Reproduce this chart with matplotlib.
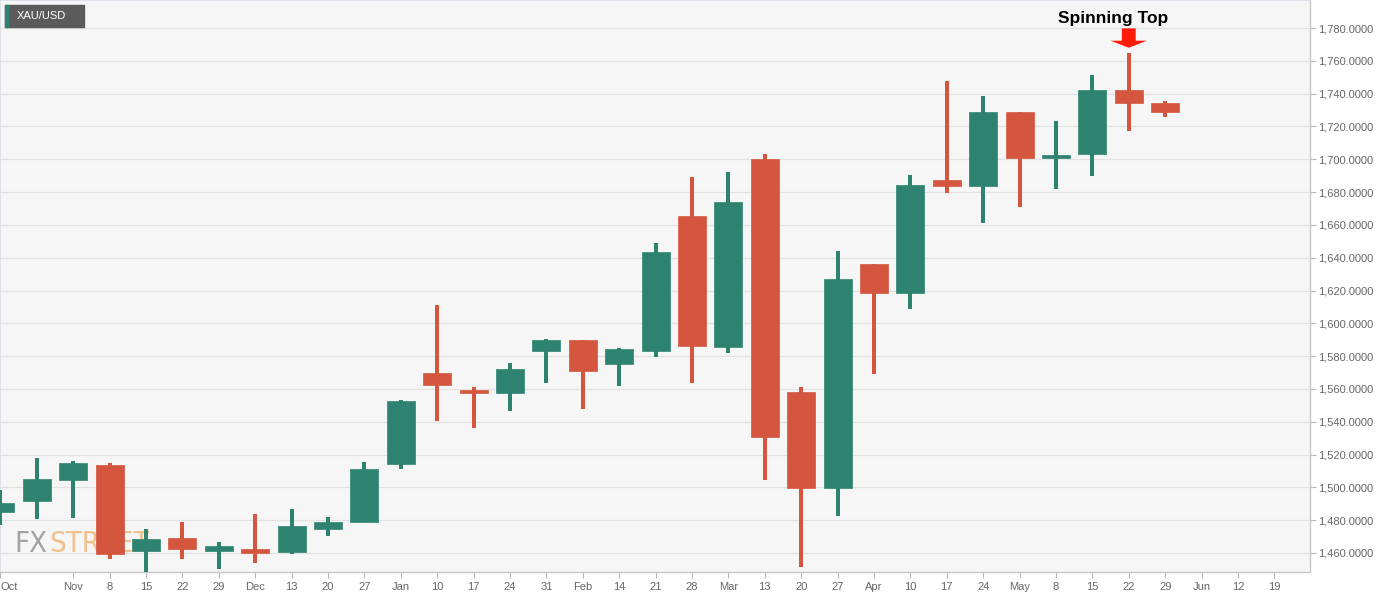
import numpy as np
import matplotlib.pyplot as plt
from matplotlib.patches import Rectangle, Polygon

# -------------------------- 数据（周线 K 线，XAU/USD） --------------------------
week_labels = ['Oct', '', 'Nov', '8', '15', '22', '29', 'Dec', '13', '20', '27',
               'Jan', '10', '17', '24', '31', 'Feb', '14', '21', '28', 'Mar', '13',
               '20', '27', 'Apr', '10', '17', '24', 'May', '8', '15', '22', '29',
               'Jun', '12', '19']
month_idx = [0, 2, 7, 11, 16, 20, 24, 28, 33]

opens = [1485.2, 1491.9, 1504.5, 1513.5, 1461.4, 1469.3, 1461.1, 1462.5, 1460.4,
         1474.6, 1479.1, 1514.3, 1569.5, 1559.4, 1557.3, 1583.1, 1589.8, 1575.2,
         1583.3, 1665.6, 1585.4, 1700.2, 1558.0, 1499.4, 1636.2, 1618.7, 1687.4,
         1683.9, 1728.6, 1700.6, 1703.0, 1742.2, 1734.1]
closes = [1490.7, 1504.9, 1514.7, 1459.4, 1468.4, 1462.5, 1464.3, 1460.2, 1476.3,
          1478.7, 1511.4, 1552.7, 1562.6, 1557.7, 1572.0, 1589.8, 1570.8, 1584.2,
          1643.7, 1586.4, 1673.8, 1530.9, 1499.4, 1626.8, 1618.7, 1684.3, 1683.9,
          1728.6, 1700.6, 1702.8, 1742.2, 1734.5, 1729.0]
highs = [1498.4, 1517.7, 1516.1, 1514.9, 1474.6, 1478.9, 1466.5, 1483.8, 1486.8,
         1481.8, 1515.5, 1553.3, 1611.2, 1561.0, 1576.0, 1590.4, 1590.0, 1585.0,
         1648.8, 1689.2, 1692.0, 1703.0, 1561.4, 1644.1, 1636.2, 1690.4, 1747.7,
         1738.6, 1728.6, 1723.3, 1751.4, 1764.6, 1735.5]
lows = [1477.1, 1480.7, 1481.3, 1456.5, 1446.0, 1456.5, 1450.4, 1454.1, 1459.4,
        1470.4, 1478.8, 1511.0, 1540.6, 1536.4, 1546.7, 1563.8, 1547.6, 1562.0,
        1579.3, 1563.4, 1581.7, 1504.7, 1451.7, 1482.7, 1568.9, 1608.9, 1679.6,
        1661.3, 1670.7, 1681.9, 1690.0, 1717.4, 1725.9]

y_ticks = np.arange(1460, 1781, 20)
signal_idx = 31  # Spinning Top 所在周

# -------------------------- 样式 --------------------------
green = '#2E8370'
red = '#D4563F'
body_w = 0.77
wick_w = 0.11
fonts = ['Liberation Sans', 'DejaVu Sans']

fig = plt.figure(figsize=(13.87, 5.98), dpi=100, facecolor='white')
ax = fig.add_axes([0, 26 / 598, 1310 / 1387, 572 / 598])
ax.set_facecolor('#f6f6f6')

# FXSTREET 水印（在K线之下）
fx = ax.text(0.011, 0.035, 'FX', transform=ax.transAxes, fontsize=21, color='#a3a3a3',
             family=['DejaVu Sans'], fontstretch='condensed', va='baseline', zorder=1)
fig.canvas.draw()
bb = fx.get_window_extent().transformed(ax.transAxes.inverted())
ax.text(bb.x1 + 0.001, 0.035, 'STREET', transform=ax.transAxes, fontsize=21,
        color='#f2c08c', family=['DejaVu Sans'], fontstretch='condensed',
        va='baseline', zorder=1)

# 绘制K线
for i, (o, c, h, l) in enumerate(zip(opens, closes, highs, lows)):
    col = green if c >= o else red
    ax.add_patch(Rectangle((i - wick_w / 2, l), wick_w, h - l, color=col, lw=0, zorder=3))
    bot = min(o, c)
    hgt = max(abs(c - o), 1.2)
    ax.add_patch(Rectangle((i - body_w / 2, bot), body_w, hgt, facecolor=col,
                           edgecolor=col, lw=0.5, zorder=3))

ax.set_xlim(-0.01, 35.98)
ax.set_ylim(1448.4, 1797.1)

# 坐标轴
tick_pos = [i for i, s in enumerate(week_labels) if s]
ax.set_xticks(tick_pos)
ax.set_xticklabels([week_labels[i] for i in tick_pos])
ax.set_xticks(month_idx, minor=True)
ax.get_xticklabels()[0].set_ha('left')
ax.yaxis.tick_right()
ax.set_yticks(y_ticks)
ax.set_yticklabels([f'{v:,.4f}' for v in y_ticks])
ax.tick_params(axis='both', colors='#b8b8b8', labelcolor='#666666', labelsize=8,
               length=4, width=0.8)
ax.tick_params(axis='x', pad=5, which='minor', length=0)
ax.tick_params(axis='y', pad=2)
for lab in ax.get_xticklabels() + ax.get_yticklabels():
    lab.set_family(fonts)

ax.grid(axis='y', color='#e2e2e2', lw=0.9, zorder=0)
ax.grid(axis='x', which='minor', color='#e2e2e2', lw=0.9, zorder=0)
ax.set_axisbelow(True)
for s in ['top', 'left']:
    ax.spines[s].set_color('#dcdce8')
    ax.spines[s].set_linewidth(1.2)
for s in ['right', 'bottom']:
    ax.spines[s].set_color('#c8c8c8')
    ax.spines[s].set_linewidth(1)

# 左上角品种标签
fig.patches.append(Rectangle((5 / 1387, 1 - 27 / 598), 79 / 1387, 22 / 598,
                             transform=fig.transFigure, color='#5b5b5b', zorder=5))
fig.patches.append(Rectangle((5 / 1387, 1 - 27 / 598), 3 / 1387, 22 / 598,
                             transform=fig.transFigure, color='#2E8370', zorder=6))
fig.text(17 / 1387, 1 - 16 / 598, 'XAU/USD', color='white', fontsize=8,
         family=fonts, va='center', ha='left', zorder=7)

# Spinning Top 标注：向下红色箭头 + 文字
hx = highs[signal_idx]
tip, neck, top = hx + 3.4, hx + 7.7, hx + 15.2
arrow = Polygon([(signal_idx - 0.19, top), (signal_idx + 0.19, top),
                 (signal_idx + 0.19, neck), (signal_idx + 0.5, neck),
                 (signal_idx, tip), (signal_idx - 0.5, neck),
                 (signal_idx - 0.19, neck)],
                closed=True, facecolor='#ff1a0a', edgecolor='none', zorder=6)
ax.add_patch(arrow)
ax.text(signal_idx - 0.43, hx + 18.4, 'Spinning Top', ha='center', va='baseline',
        fontsize=12.5, fontweight='bold', color='black', family=fonts, zorder=6)

fig.savefig('out.png', dpi=100, facecolor='white')
